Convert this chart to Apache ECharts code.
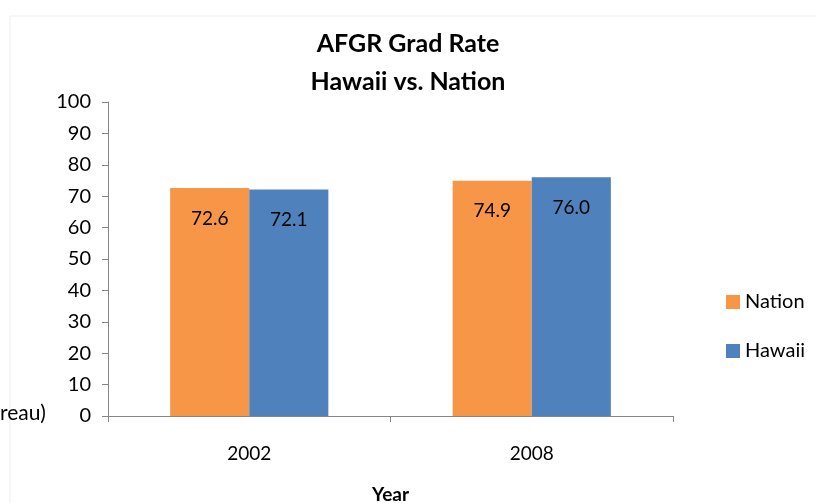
<!DOCTYPE html>
<html><head><meta charset="utf-8">
<script src="https://cdn.jsdelivr.net/npm/echarts@6/dist/echarts.min.js"></script>
<style>html,body{margin:0;padding:0;background:#fff}#c{width:816px;height:503px}</style>
</head><body><div id="c"></div>
<script>
const categories = ['2002', '2008'];
const nationValues = [72.6, 74.9];
const hawaiiValues = [72.1, 76.0];
const seriesNames = ['Nation', 'Hawaii'];
const yTicks = [0, 10, 20, 30, 40, 50, 60, 70, 80, 90, 100];

const FONT = 'Lato';
const chart = echarts.init(document.getElementById('c'), null, {renderer: 'canvas'});
const labelOpt = {
  show: true, position: 'insideTop', distance: 21,
  color: '#000', fontSize: 19, fontFamily: FONT,
  formatter: p => p.value.toFixed(1)
};
chart.setOption({
  animation: false,
  backgroundColor: '#fff',
  color: ['#F79646', '#4F81BD'],
  title: {
    text: 'AFGR Grad Rate\nHawaii vs. Nation',
    left: 'center', top: 20,
    textStyle: {fontFamily: FONT, fontWeight: 'bold', fontSize: 25, lineHeight: 38, color: '#000'}
  },
  graphic: [
    {type: 'rect', shape: {x: 10, y: 16, width: 820, height: 500}, style: {fill: 'none', stroke: '#eeeeee', lineWidth: 1}, silent: true},
    {type: 'text', left: 0, top: 403, style: {text: 'reau)', fontFamily: FONT, fontSize: 21, fill: '#000'}}
  ],
  legend: {
    orient: 'vertical', left: 721, top: 287,
    itemWidth: 14, itemHeight: 14, itemGap: 29,
    icon: 'rect',
    textStyle: {fontFamily: FONT, fontSize: 20, color: '#000'},
    data: seriesNames
  },
  grid: {left: 108, right: 143, top: 102, bottom: 87, containLabel: false, outerBoundsMode: 'none'},
  xAxis: {
    type: 'category', data: categories,
    name: 'Year', nameLocation: 'middle', nameGap: 69,
    nameTextStyle: {fontFamily: FONT, fontWeight: 'bold', fontSize: 19, color: '#000'},
    axisLine: {lineStyle: {color: '#868686', width: 1}},
    axisTick: {show: true, alignWithLabel: false, length: 6, lineStyle: {color: '#868686'}},
    axisLabel: {fontFamily: FONT, fontSize: 19, color: '#000', margin: 28}
  },
  yAxis: {
    type: 'value', min: 0, max: 100, interval: 10,
    axisLine: {show: true, lineStyle: {color: '#868686', width: 1}},
    axisTick: {show: true, length: 6, lineStyle: {color: '#868686'}},
    splitLine: {show: false},
    axisLabel: {fontFamily: FONT, fontSize: 20, color: '#000', margin: 17,
      formatter: v => yTicks.includes(v) ? String(v) : ''}
  },
  series: [
    {name: seriesNames[0], type: 'bar', data: nationValues, barGap: '0%', barCategoryGap: '44%', label: labelOpt},
    {name: seriesNames[1], type: 'bar', data: hawaiiValues, barGap: '0%', barCategoryGap: '44%', label: labelOpt}
  ]
});
</script></body></html>
